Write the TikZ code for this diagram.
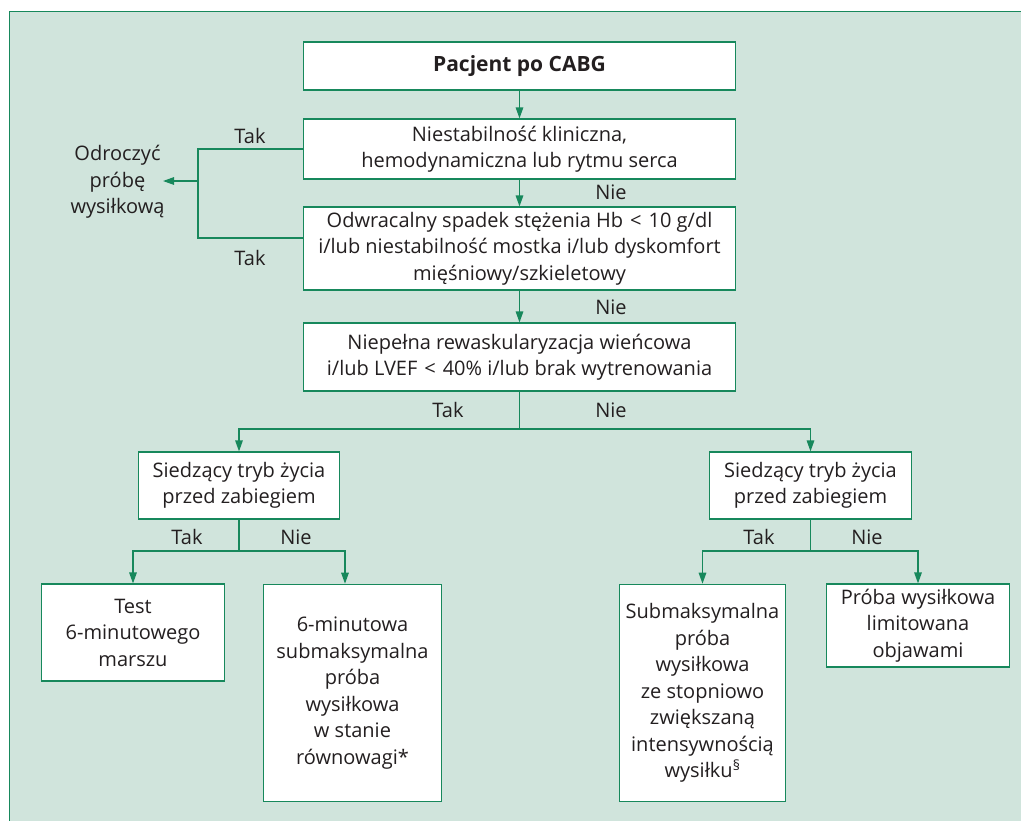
\documentclass[tikz,border=0pt]{standalone}
\usepackage{fontspec}
\setmainfont{Open Sans}
\usetikzlibrary{arrows.meta}
\definecolor{frame}{HTML}{17885C}
\definecolor{panel}{HTML}{D0E4DC}
\definecolor{ink}{HTML}{231F20}
\newcommand{\lessthan}{\hspace{0.35em}<\hspace{0.35em}}
\begin{document}
\begin{tikzpicture}[x=1bp,y=-1bp,
  txt/.style={text=ink, font=\fontsize{20bp}{26.5bp}\selectfont},
  box/.style={txt, draw=frame, line width=1.4bp, fill=white, align=center, inner sep=0pt},
  lbl/.style={txt, inner sep=0pt},
  flow/.style={draw=frame, line width=1.4bp},
  arr/.style={flow, -{Triangle[length=11bp,width=7.5bp]}}]
% page and panel
\useasboundingbox (0,0) rectangle (1021,821);
\fill[white] (0,0) rectangle (1021,821);
\path[fill=panel, draw=frame, line width=1.5bp] (9.5,11.5) rectangle (1040,840);

% boxes
\node[box, minimum width=434, minimum height=48, font=\fontsize{21bp}{26.5bp}\selectfont\bfseries] (b1) at (519.5,66) {Pacjent po CABG};
\node[box, minimum width=434, minimum height=60] (b2) at (519.5,149)
  {Niestabilność kliniczna,\\hemodynamiczna lub rytmu serca};
\node[box, minimum width=434, minimum height=83] (b3) at (519.5,248.5)
  {Odwracalny spadek stężenia Hb\lessthan10 g/dl\\i/lub niestabilność mostka i/lub dyskomfort\\mięśniowy/szkieletowy};
\node[box, minimum width=434, minimum height=68] (b4) at (519.5,357)
  {Niepełna rewaskularyzacja wieńcowa\\i/lub LVEF\lessthan40\% i/lub brak wytrenowania};
\node[box, minimum width=202, minimum height=67] (b5) at (239,485.5)
  {Siedzący tryb życia\\przed zabiegiem};
\node[box, minimum width=203, minimum height=67] (b6) at (810.5,485.5)
  {Siedzący tryb życia\\przed zabiegiem};
\node[box, minimum width=184, minimum height=97] (b7) at (133,632.5)
  {Test\\6-minutowego\\marszu};
\node[box, minimum width=179, minimum height=218] (b8) at (352.5,693)
  {6-minutowa\\submaksymalna\\próba\\wysiłkowa\\w stanie\\równowagi*};
\node[box, minimum width=167, minimum height=218] (b9) at (702.5,693)
  {Submaksymalna\\próba\\wysiłkowa\\ze stopniowo\\zwiększaną\\intensywnością\\wysiłku\textsuperscript{\S}};
\node[box, minimum width=184, minimum height=83] (b10) at (918,625.5)
  {Próba wysiłkowa\\limitowana\\objawami};
\node[lbl, align=center] (odr) at (117.5,182) {Odroczyć\\próbę\\wysiłkową};

% junction points
\coordinate (ka) at (198,149);
\coordinate (kb) at (198,238);
\coordinate (km) at (198,181);
\coordinate (tipO) at (163,181);
\coordinate (j1) at (519.5,429);
\coordinate (j2) at (239,551);
\coordinate (t8) at (345,551);
\coordinate (j3) at (810.5,551);

% connectors
\draw[arr] (b1) -- (b2);
\draw[arr] (b2) -- (b3);
\draw[arr] (b3) -- (b4);
\draw[flow] (b2.west) -- (ka) -- (kb) -- (kb -| b3.west);
\draw[arr] (km) -- (tipO);
\draw[flow] (b4) -- (j1);
\draw[arr] (j1) -| (b5);
\draw[arr] (j1) -| (b6);
\draw[flow] (b5) -- (j2);
\draw[arr] (j2) -| (b7);
\draw[arr] (j2) -- (t8) -- (t8 |- b8.north);
\draw[flow] (b6) -- (j3);
\draw[arr] (j3) -| (b9);
\draw[arr] (j3) -| (b10);

% branch labels
\node[lbl] (l1) at (250,136) {Tak};
\node[lbl] (l2) at (250,258) {Tak};
\node[lbl] (l3) at (611,192) {Nie};
\node[lbl] (l4) at (611,307) {Nie};
\node[lbl] (l5) at (448,410) {Tak};
\node[lbl] (l6) at (611,410) {Nie};
\node[lbl] (l7) at (187,537) {Tak};
\node[lbl] (l8) at (296,537) {Nie};
\node[lbl] (l9) at (759,537) {Tak};
\node[lbl] (l10) at (867,537) {Nie};
\end{tikzpicture}
\end{document}
